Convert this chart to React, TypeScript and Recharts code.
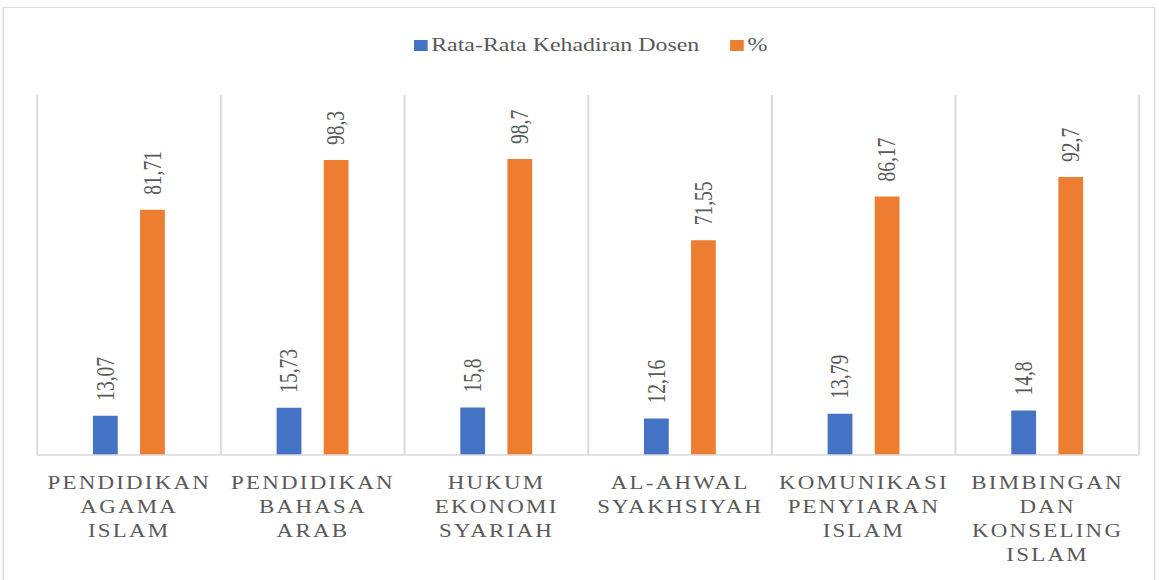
import React from 'react';
import { BarChart, Bar, XAxis, YAxis, CartesianGrid, LabelList } from 'recharts';

const categories = [
  'PENDIDIKAN AGAMA ISLAM',
  'PENDIDIKAN BAHASA ARAB',
  'HUKUM EKONOMI SYARIAH',
  'AL-AHWAL SYAKHSIYAH',
  'KOMUNIKASI PENYIARAN ISLAM',
  'BIMBINGAN DAN KONSELING ISLAM',
];
const kehadiranDosen = [13.07, 15.73, 15.8, 12.16, 13.79, 14.8];
const persen = [81.71, 98.3, 98.7, 71.55, 86.17, 92.7];
const seriesNames = ['Rata-Rata Kehadiran Dosen', '%'];

const data = categories.map((name, i) => ({
  name,
  dosen: kehadiranDosen[i],
  persen: persen[i],
}));

const W = 935;
const H = 580;
const SX = 1159 / W;
const FONT = '"Liberation Serif", "Times New Roman", serif';
const TEXT = '#595959';
const GRID = '#d9d9d9';
const BLUE = '#4472C4';
const ORANGE = '#ED7D31';

const fmt = (v: number) => String(v).replace('.', ',');

const CategoryTick = (props: any) => {
  const { x, y, payload } = props;
  const lines = String(payload.value).split(' ');
  const tx = x + 0.2;
  return (
    <text x={tx} y={y + 32} textAnchor="middle" fill={TEXT} fontSize={18.5} fontFamily={FONT} letterSpacing={1.8}>
      {lines.map((l, i) => (
        <tspan key={i} x={tx} dy={i === 0 ? 0 : 24}>
          {l}
        </tspan>
      ))}
    </text>
  );
};

const RotLabel = (props: any) => {
  const { x, y, width, value } = props;
  const cx = x + width / 2;
  const ty = y - 15;
  return (
    <text
      x={cx}
      y={ty}
      transform={`rotate(-90 ${cx} ${ty})`}
      textAnchor="start"
      dominantBaseline="central"
      fill={TEXT}
      fontSize={19.5}
      fontFamily={FONT}
    >
      {fmt(value)}
    </text>
  );
};

const App: React.FC = () => {
  const gridX = ({ offset }: any) =>
    categories.map((_, i) => offset.left + (offset.width * i) / categories.length).concat(offset.left + offset.width);

  return (
    <div
      style={{
        position: 'absolute',
        left: 0,
        top: 0,
        width: W,
        height: H,
        overflow: 'hidden',
        transform: `scaleX(${SX})`,
        transformOrigin: '0 0',
        background: '#fff',
      }}
    >
      <div
        style={{
          position: 'absolute',
          left: 2,
          top: 7,
          width: 928,
          height: 600,
          border: `1px solid ${GRID}`,
        }}
      />
      <div
        style={{
          position: 'absolute',
          top: 35,
          left: 0,
          width: W,
          paddingLeft: 18,
          boxSizing: 'border-box',
          display: 'flex',
          justifyContent: 'center',
          alignItems: 'center',
          fontFamily: FONT,
          fontSize: 19.3,
          color: TEXT,
          lineHeight: '20px',
        }}
      >
        <span style={{ width: 11, height: 11, background: BLUE, display: 'inline-block', marginRight: 3 }} />
        <span style={{ marginRight: 25 }}>{seriesNames[0]}</span>
        <span style={{ width: 11, height: 11, background: ORANGE, display: 'inline-block', marginRight: 3 }} />
        <span>{seriesNames[1]}</span>
      </div>
      <BarChart
        width={W}
        height={H}
        data={data}
        margin={{ top: 95, right: 16, left: 30, bottom: 0 }}
        barSize={20}
        barGap={18}
        style={{ position: 'absolute', left: 0, top: 0 }}
      >
        <CartesianGrid horizontal={false} stroke={GRID} strokeWidth={1.5} verticalCoordinatesGenerator={gridX} />
        <XAxis
          dataKey="name"
          height={125}
          axisLine={{ stroke: GRID, strokeWidth: 1.5 }}
          tickLine={false}
          tickSize={0}
          interval={0}
          tick={<CategoryTick />}
        />
        <YAxis hide domain={[0, 120]} />
        <Bar dataKey="dosen" name={seriesNames[0]} fill={BLUE} isAnimationActive={false}>
          <LabelList dataKey="dosen" content={<RotLabel />} />
        </Bar>
        <Bar dataKey="persen" name={seriesNames[1]} fill={ORANGE} isAnimationActive={false}>
          <LabelList dataKey="persen" content={<RotLabel />} />
        </Bar>
      </BarChart>
    </div>
  );
};

export default App;
